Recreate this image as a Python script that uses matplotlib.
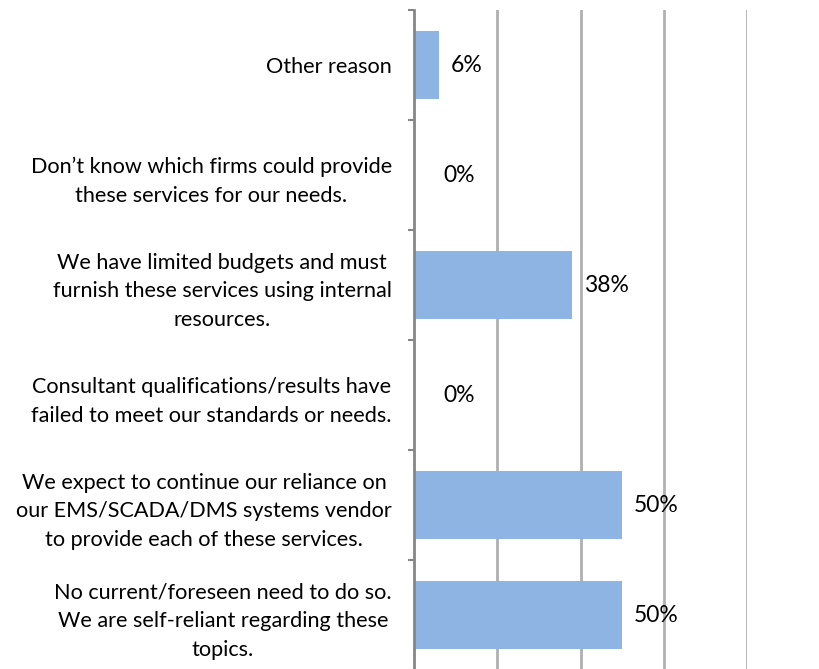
import numpy as np
import matplotlib.pyplot as plt

reasons = [
    "Other reason",
    "Don\u2019t know which firms could provide\nthese services for our needs.",
    "We have limited budgets and must\nfurnish these services using internal\nresources.",
    "Consultant qualifications/results have\nfailed to meet our standards or needs.",
    "We expect to continue our reliance on\nour EMS/SCADA/DMS systems vendor\nto provide each of these services.",
    "No current/foreseen need to do so.\nWe are self-reliant regarding these\ntopics.",
]
shares = [6, 0, 38, 0, 50, 50]  # percent

plt.rcParams['font.family'] = ['Lato', 'DejaVu Sans']

fig = plt.figure(figsize=(8.2, 6.69), dpi=100)
ax = fig.add_axes([414 / 820, -1 / 669, 333 / 820, 660 / 669])

y = np.arange(len(reasons))
ax.barh(y, shares, height=0.62, color='#8EB4E3', zorder=3)

ax.set_xlim(0, 80)
ax.set_ylim(len(reasons) - 0.5, -0.5)
ax.set_xticks([20, 40, 60, 80])
ax.xaxis.grid(True, color='#B0B0B0', linewidth=2)
ax.tick_params(axis='x', length=0, labelbottom=False)

ax.set_yticks(y)
ax.set_yticklabels(reasons, fontsize=15.6, linespacing=1.55)
for t in ax.get_yticklabels():
    t.set_multialignment('center')
ax.set_yticks(np.arange(-0.5, len(reasons)), minor=True)
ax.tick_params(axis='y', which='major', length=0, pad=16)
ax.tick_params(axis='y', which='minor', length=4, width=1.5, color='#868686')

for s in ['top', 'right', 'bottom']:
    ax.spines[s].set_visible(False)
ax.spines['left'].set_color('#868686')
ax.spines['left'].set_linewidth(2)
ax.spines['left'].set_zorder(4)

for yi, v in zip(y, shares):
    off = 12 if v > 0 else 29
    ax.annotate(f"{v}%", (v, yi), xytext=(off * 0.72, 0), textcoords='offset points',
                ha='left', va='center', fontsize=16.5)

fig.savefig('out.png', dpi=100)
